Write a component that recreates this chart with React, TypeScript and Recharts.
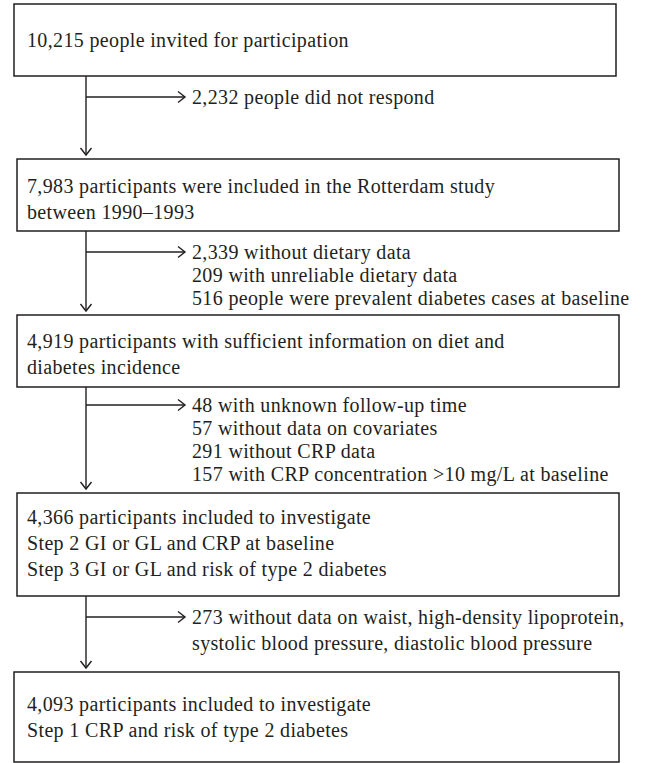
import { ScatterChart, Scatter, XAxis, YAxis, ReferenceArea, ReferenceLine } from "recharts";

// flowchart content
const boxLines: string[][] = [
  ["10,215 people invited for participation"],
  ["7,983 participants were included in the Rotterdam study", "between 1990–1993"],
  ["4,919 participants with sufficient information on diet and", "diabetes incidence"],
  [
    "4,366 participants included to investigate",
    "Step 2 GI or GL and CRP at baseline",
    "Step 3 GI or GL and risk of type 2 diabetes",
  ],
  ["4,093 participants included to investigate", "Step 1 CRP and risk of type 2 diabetes"],
];

const exclusionLines: string[][] = [
  ["2,232 people did not respond"],
  ["2,339 without dietary data", "209 with unreliable dietary data", "516 people were prevalent diabetes cases at baseline"],
  [
    "48 with unknown follow-up time",
    "57 without data on covariates",
    "291 without CRP data",
    "157 with CRP concentration >10 mg/L at baseline",
  ],
  ["273 without data on waist, high-density lipoprotein,", "systolic blood pressure, diastolic blood pressure"],
];

// layout in chart units (1 unit = 1px)
const W = 646;
const H = 763;
const boxLeft = [14, 17, 17, 17, 14];
const boxRight = [616, 619, 619, 619, 619];
const boxTop = [4, 159, 315, 493, 672];
const boxBottom = [76, 231, 387, 596, 762];
const boxTextY = [40, 186, 341, 517, 704];
const branchY = [97, 252, 405, 617];
const exclGap = [23, 23, 23, 26];
const trunkX = 86;
const branchEndX = 185;
const textX = 27;
const exclX = 192;

const INK = "#231f20";
const FONT = "'Liberation Serif', 'Times New Roman', serif";

const textPoints = [
  ...boxLines.flatMap((lines, i) => lines.map((t, j) => ({ x: textX, y: boxTextY[i] + j * 26, t }))),
  ...exclusionLines.flatMap((lines, i) => lines.map((t, j) => ({ x: exclX, y: branchY[i] + j * exclGap[i], t }))),
];

const Arrow = (props: any) => {
  const { x1, y1, x2, y2 } = props;
  const dx = x2 - x1;
  const dy = y2 - y1;
  const len = Math.sqrt(dx * dx + dy * dy) || 1;
  const ux = dx / len;
  const uy = dy / len;
  const L = 7;
  const hw = 5.5;
  const bx = x2 - ux * L;
  const by = y2 - uy * L;
  return (
    <g>
      <line x1={x1} y1={y1} x2={x2} y2={y2} stroke={INK} strokeWidth={1.4} />
      <polyline
        points={`${bx - uy * hw},${by + ux * hw} ${x2},${y2} ${bx + uy * hw},${by - ux * hw}`}
        fill="none"
        stroke={INK}
        strokeWidth={1.4}
      />
    </g>
  );
};

const Label = (props: any) => {
  const { cx, cy, payload } = props;
  return (
    <text
      x={cx}
      y={cy}
      dominantBaseline="central"
      fontFamily={FONT}
      fontSize={20}
      letterSpacing={0.35}
      fill={INK}
    >
      {payload.t}
    </text>
  );
};

export default function App() {
  return (
    <div style={{ width: W, height: H }}>
      <style>{`body{margin:0}`}</style>
      <ScatterChart width={W} height={H} margin={{ top: 0, right: 0, bottom: 0, left: 0 }}>
        <XAxis type="number" dataKey="x" domain={[0, W]} hide height={0} />
        <YAxis type="number" dataKey="y" domain={[0, H]} reversed hide width={0} />
        {boxTop.map((top, i) => (
          <ReferenceArea
            key={`b${i}`}
            x1={boxLeft[i]}
            x2={boxRight[i]}
            y1={top}
            y2={boxBottom[i]}
            fill="#fff"
            fillOpacity={1}
            stroke={INK}
            strokeWidth={1.5}
            ifOverflow="visible"
          />
        ))}
        {branchY.map((by, i) => (
          <ReferenceLine
            key={`t${i}`}
            segment={[
              { x: trunkX, y: boxBottom[i] },
              { x: trunkX, y: boxTop[i + 1] - 4 },
            ]}
            shape={Arrow}
            ifOverflow="visible"
          />
        ))}
        {branchY.map((by, i) => (
          <ReferenceLine
            key={`r${i}`}
            segment={[
              { x: trunkX, y: by },
              { x: branchEndX, y: by },
            ]}
            shape={Arrow}
            ifOverflow="visible"
          />
        ))}
        <Scatter data={textPoints} shape={Label} isAnimationActive={false} />
      </ScatterChart>
    </div>
  );
}
